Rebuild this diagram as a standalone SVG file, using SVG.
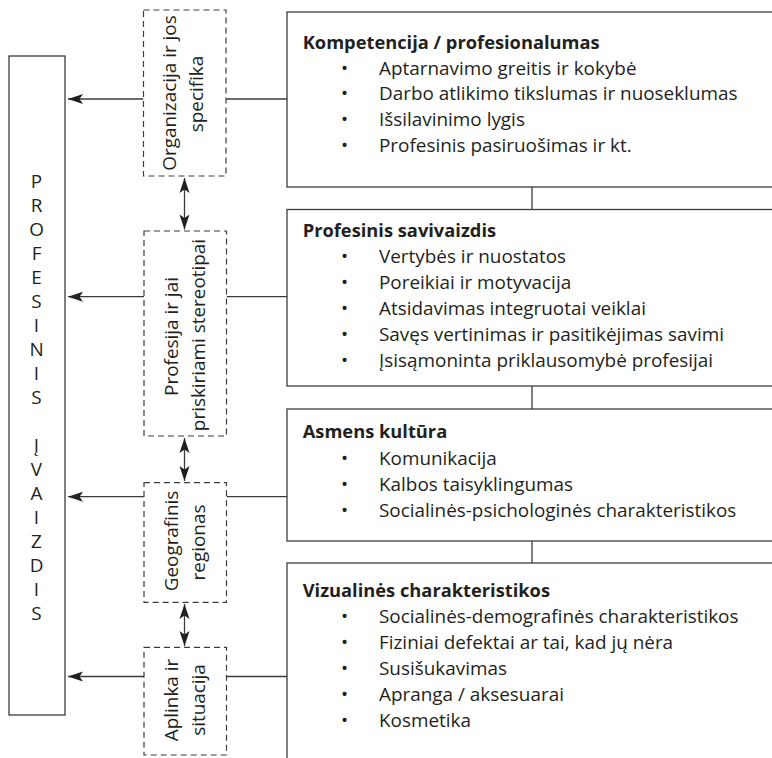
<svg xmlns="http://www.w3.org/2000/svg" width="772" height="758" viewBox="0 0 772 758">
<defs>
<style>
.t{font-family:"Open Sans","Noto Sans","Liberation Sans",sans-serif;font-size:18.9px;fill:#231f20}
.b{font-weight:700;font-size:18.3px}
.m{text-anchor:middle}
.box{fill:#fff;stroke:#3c3c3c;stroke-width:1.3}
.dash{fill:#fff;stroke:#3c3c3c;stroke-width:1.2;stroke-dasharray:6 4}
.ln{stroke:#3c3c3c;stroke-width:1.3;fill:none}
</style>
<marker id="ah" viewBox="0 0 16 12" refX="15" refY="6" markerWidth="16" markerHeight="12" markerUnits="userSpaceOnUse" orient="auto-start-reverse">
<path d="M0,1 L15,6 L0,11 L3.5,6 Z" fill="#231f20"/>
</marker>
</defs>
<rect width="772" height="758" fill="#fff"/>

<g id="connectors">
<line class="ln" x1="532" y1="187" x2="532" y2="209.5"/>
<line class="ln" x1="532" y1="386" x2="532" y2="409"/>
<line class="ln" x1="532" y1="541" x2="532" y2="563"/>
<line class="ln" x1="226" y1="99" x2="287" y2="99"/>
<line class="ln" x1="226.5" y1="296.7" x2="287" y2="296.7"/>
<line class="ln" x1="226.5" y1="496.7" x2="287" y2="496.7"/>
<line class="ln" x1="226.5" y1="676.5" x2="287" y2="676.5"/>
<line class="ln" x1="143.5" y1="99" x2="68" y2="99" marker-end="url(#ah)"/>
<line class="ln" x1="144" y1="296.7" x2="68" y2="296.7" marker-end="url(#ah)"/>
<line class="ln" x1="144" y1="496.7" x2="68" y2="496.7" marker-end="url(#ah)"/>
<line class="ln" x1="144" y1="676.5" x2="68" y2="676.5" marker-end="url(#ah)"/>
<line class="ln" x1="184.5" y1="178" x2="184.5" y2="229.5" marker-start="url(#ah)" marker-end="url(#ah)"/>
<line class="ln" x1="184.5" y1="438" x2="184.5" y2="481" marker-start="url(#ah)" marker-end="url(#ah)"/>
<line class="ln" x1="184.5" y1="604" x2="184.5" y2="646" marker-start="url(#ah)" marker-end="url(#ah)"/>
</g>

<g id="profesinis-ivaizdis">
<rect class="box" x="9" y="56" width="56" height="659"/>
<text class="t m">
<tspan x="36.5" y="188">P</tspan><tspan x="36.5" y="212">R</tspan><tspan x="36.5" y="236">O</tspan><tspan x="36.5" y="260">F</tspan><tspan x="36.5" y="284">E</tspan><tspan x="36.5" y="308">S</tspan><tspan x="36.5" y="332">I</tspan><tspan x="36.5" y="356">N</tspan><tspan x="36.5" y="380">I</tspan><tspan x="36.5" y="404">S</tspan><tspan x="36.5" y="452">Į</tspan><tspan x="36.5" y="476">V</tspan><tspan x="36.5" y="500">A</tspan><tspan x="36.5" y="524">I</tspan><tspan x="36.5" y="548">Z</tspan><tspan x="36.5" y="572">D</tspan><tspan x="36.5" y="596">I</tspan><tspan x="36.5" y="620">S</tspan>
</text>
</g>

<g id="organizacija">
<rect class="dash" x="143.5" y="10" width="82.5" height="166"/>
<text class="t m" transform="translate(176,93) rotate(-90)">Organizacija ir jos</text>
<text class="t m" transform="translate(202.5,94) rotate(-90)">specifika</text>
</g>

<g id="profesija">
<rect class="dash" x="144" y="231" width="82.5" height="205"/>
<text class="t m" transform="translate(178,336.5) rotate(-90)">Profesija ir jai</text>
<text class="t m" transform="translate(205,335) rotate(-90)">priskiriami stereotipai</text>
</g>

<g id="geografinis">
<rect class="dash" x="144" y="482.7" width="82.5" height="119.6"/>
<text class="t m" transform="translate(178,541) rotate(-90)">Geografinis</text>
<text class="t m" transform="translate(205,542.5) rotate(-90)">regionas</text>
</g>

<g id="aplinka">
<rect class="dash" x="144" y="647.3" width="82.5" height="107.7"/>
<text class="t m" transform="translate(178,700) rotate(-90)">Aplinka ir</text>
<text class="t m" transform="translate(205,700) rotate(-90)">situacija</text>
</g>

<g id="kompetencija">
<rect class="box" x="287" y="12" width="500" height="175"/>
<text class="t b" x="302.7" y="48.5">Kompetencija / profesionalumas</text>
<text class="t m" x="344.5" y="74.7">•</text><text class="t" x="379" y="74.7">Aptarnavimo greitis ir kokybė</text>
<text class="t m" x="344.5" y="100.4">•</text><text class="t" x="379" y="100.4">Darbo atlikimo tikslumas ir nuoseklumas</text>
<text class="t m" x="344.5" y="126.2">•</text><text class="t" x="379" y="126.2">Išsilavinimo lygis</text>
<text class="t m" x="344.5" y="151.9">•</text><text class="t" x="379" y="151.9">Profesinis pasiruošimas ir kt.</text>
</g>

<g id="savivaizdis">
<rect class="box" x="287" y="209.5" width="500" height="176.5"/>
<text class="t b" x="302.7" y="236.8">Profesinis savivaizdis</text>
<text class="t m" x="344.5" y="263">•</text><text class="t" x="379" y="263">Vertybės ir nuostatos</text>
<text class="t m" x="344.5" y="288.9">•</text><text class="t" x="379" y="288.9">Poreikiai ir motyvacija</text>
<text class="t m" x="344.5" y="314.8">•</text><text class="t" x="379" y="314.8">Atsidavimas integruotai veiklai</text>
<text class="t m" x="344.5" y="340.6">•</text><text class="t" x="379" y="340.6">Savęs vertinimas ir pasitikėjimas savimi</text>
<text class="t m" x="344.5" y="366.5">•</text><text class="t" x="379" y="366.5">Įsisąmoninta priklausomybė profesijai</text>
</g>

<g id="kultura">
<rect class="box" x="287" y="409" width="500" height="132"/>
<text class="t b" x="302.7" y="438">Asmens kultūra</text>
<text class="t m" x="344.5" y="465">•</text><text class="t" x="379" y="465">Komunikacija</text>
<text class="t m" x="344.5" y="491">•</text><text class="t" x="379" y="491">Kalbos taisyklingumas</text>
<text class="t m" x="344.5" y="517">•</text><text class="t" x="379" y="517">Socialinės-psichologinės charakteristikos</text>
</g>

<g id="vizualines">
<rect class="box" x="287" y="563" width="500" height="210"/>
<text class="t b" x="302.7" y="596.7">Vizualinės charakteristikos</text>
<text class="t m" x="344.5" y="623.3">•</text><text class="t" x="379" y="623.3">Socialinės-demografinės charakteristikos</text>
<text class="t m" x="344.5" y="649.3">•</text><text class="t" x="379" y="649.3">Fiziniai defektai ar tai, kad jų nėra</text>
<text class="t m" x="344.5" y="675.3">•</text><text class="t" x="379" y="675.3">Susišukavimas</text>
<text class="t m" x="344.5" y="701.3">•</text><text class="t" x="379" y="701.3">Apranga / aksesuarai</text>
<text class="t m" x="344.5" y="727.3">•</text><text class="t" x="379" y="727.3">Kosmetika</text>
</g>
</svg>
